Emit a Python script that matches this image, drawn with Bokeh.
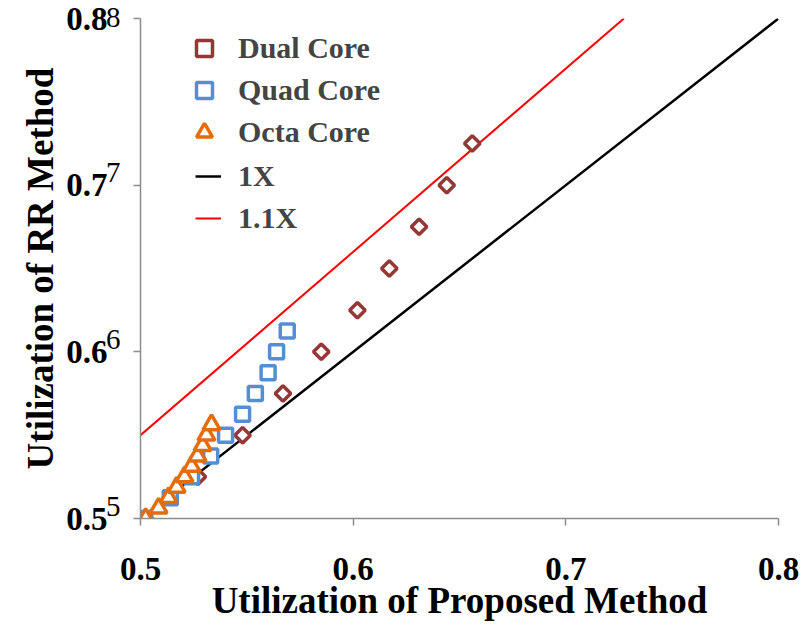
from bokeh.plotting import figure
from bokeh.models import Range1d, FixedTicker, Legend, LegendItem, LinearAxis
from bokeh.embed import file_html
from bokeh.resources import INLINE
import math

# ---- data ----
dual_x = [0.502, 0.527, 0.548, 0.567, 0.585, 0.602, 0.617, 0.631, 0.644, 0.656]
dual_y = [0.5, 0.525, 0.55, 0.575, 0.6, 0.625, 0.65, 0.675, 0.7, 0.725]

quad_x = [0.502, 0.514, 0.524, 0.533, 0.540, 0.548, 0.554, 0.560, 0.564, 0.569]
quad_y = [0.5, 0.5125, 0.525, 0.5375, 0.55, 0.5625, 0.575, 0.5875, 0.6, 0.6125]

octa_x = [0.5024, 0.5085, 0.5132, 0.517, 0.5207, 0.524, 0.5268, 0.5292, 0.531, 0.5334]
octa_y = [0.5, 0.50625, 0.5125, 0.51875, 0.525, 0.53125, 0.5375, 0.54375, 0.55, 0.55625]

one_x = [0.5, 0.8]
one_y = [0.5, 0.8]
onepointone_x = [0.5, 0.7273]
onepointone_y = [0.55, 0.8]

x_ticks = [0.5, 0.6, 0.7, 0.8]
y_ticks = [0.5, 0.6, 0.7, 0.8]
y_tick_labels = ["0.5", "0.6", "0.7", "0.8"]

series_names = ["Dual Core", "Quad Core", "Octa Core", "1X", "1.1X"]

FONT = "Liberation Serif"
C_DUAL, C_QUAD, C_OCTA = "#953735", "#558ED5", "#E46C0A"

p = figure(width=811, height=627, output_backend="svg", toolbar_location=None,
           x_range=Range1d(0.5, 0.8), y_range=Range1d(0.5, 0.8),
           min_border_left=140, min_border_right=33, min_border_top=18, min_border_bottom=109)
p.outline_line_color = None
p.grid.visible = False
p.background_fill_color = "white"
p.border_fill_color = "white"

# reference lines first (markers drawn on top)
r_1x = p.line(one_x, one_y, line_color="black", line_width=2.5)
r_11x = p.line(onepointone_x, onepointone_y, line_color="#FF0000", line_width=2)

r_dual = p.scatter(dual_x, dual_y, marker="square", angle=math.pi / 4, size=11,
                   line_color=C_DUAL, line_width=3.5, fill_color="white")
r_quad = p.scatter(quad_x, quad_y, marker="square", size=14,
                   line_color=C_QUAD, line_width=3.5, fill_color="white")
r_octa = p.scatter(octa_x, octa_y, marker="triangle", size=17,
                   line_color=C_OCTA, line_width=3.5, fill_color="white")


def style_legend(lg):
    lg.background_fill_alpha = 0
    lg.border_line_color = None
    lg.label_text_font = FONT
    lg.label_text_font_style = "bold"
    lg.label_text_font_size = "30px"
    lg.label_height = 40
    lg.glyph_height = 40
    lg.spacing = 2
    lg.padding = 0
    lg.margin = 0


legend_markers = Legend(items=[
    LegendItem(label=series_names[0], renderers=[r_dual]),
    LegendItem(label=series_names[1], renderers=[r_quad]),
    LegendItem(label=series_names[2], renderers=[r_octa]),
], location=(44, 366))
style_legend(legend_markers)
legend_markers.glyph_width = 40
legend_markers.label_standoff = 14
p.add_layout(legend_markers, "center")

legend_lines = Legend(items=[
    LegendItem(label=series_names[3], renderers=[r_1x]),
    LegendItem(label=series_names[4], renderers=[r_11x]),
], location=(55, 280))
style_legend(legend_lines)
legend_lines.glyph_width = 26
legend_lines.label_standoff = 17
p.add_layout(legend_lines, "center")

# x axis
xa = p.xaxis[0]
# inner y axis: axis line, ticks and the small raised digits
ya = p.yaxis[0]
for ax in (xa, ya):
    ax.axis_line_color = "#8C8C8C"
    ax.axis_line_width = 1.5
    ax.major_tick_line_color = "#8C8C8C"
    ax.major_tick_line_width = 1.5
    ax.major_tick_out = 7
    ax.major_tick_in = 0
    ax.minor_tick_line_color = None
    ax.major_label_text_font = FONT
    ax.major_label_text_color = "black"

xa.ticker = FixedTicker(ticks=x_ticks)
xa.major_label_text_font_style = "bold"
xa.major_label_text_font_size = "33px"
xa.major_label_standoff = 32
xa.axis_label = "Utilization of Proposed Method"
xa.axis_label_text_font = FONT
xa.axis_label_text_font_style = "bold"
xa.axis_label_text_font_size = "37px"
xa.axis_label_text_color = "black"
xa.axis_label_standoff = -3

ya.ticker = FixedTicker(ticks=y_ticks)
# a trailing blank line lifts the digit above the tick (superscript look)
ya.major_label_overrides = {t: lab[-1] + "\n " for t, lab in zip(y_ticks, y_tick_labels)}
ya.major_label_text_font_style = "normal"
ya.major_label_text_font_size = "29px"
ya.major_label_text_line_height = 0.8
ya.major_label_standoff = 13

# outer y axis: the bold tick labels and the axis title
ya2 = LinearAxis(ticker=FixedTicker(ticks=y_ticks),
                 major_label_overrides={t: lab for t, lab in zip(y_ticks, y_tick_labels)})
ya2.axis_line_color = None
ya2.major_tick_line_color = None
ya2.minor_tick_line_color = None
ya2.major_tick_out = 0
ya2.major_tick_in = 0
ya2.major_label_standoff = -5
ya2.major_label_text_font = FONT
ya2.major_label_text_font_style = "bold"
ya2.major_label_text_font_size = "33px"
ya2.major_label_text_color = "black"
ya2.axis_label = "Utilization of RR Method"
ya2.axis_label_text_font = FONT
ya2.axis_label_text_font_style = "bold"
ya2.axis_label_text_font_size = "37px"
ya2.axis_label_text_color = "black"
ya2.axis_label_standoff = 2
p.add_layout(ya2, "left")

open("out.html", "w").write(file_html(p, INLINE))
